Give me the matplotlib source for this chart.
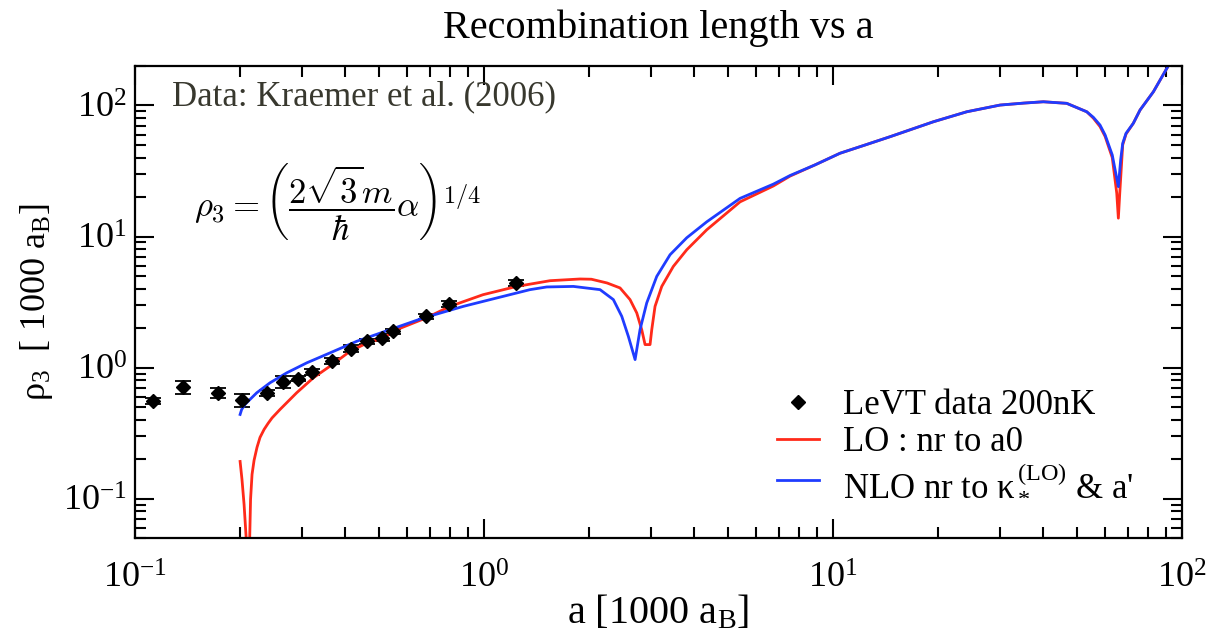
import numpy as np
import matplotlib
matplotlib.use("Agg")
import matplotlib.pyplot as plt
from matplotlib.lines import Line2D
from matplotlib.ticker import LogLocator, LogFormatterMathtext, NullFormatter

plt.rcParams["font.family"] = ["Liberation Serif", "DejaVu Serif"]
plt.rcParams["mathtext.fontset"] = "custom"
plt.rcParams["mathtext.rm"] = "Liberation Serif"
plt.rcParams["mathtext.it"] = "Liberation Serif:italic"
plt.rcParams["mathtext.bf"] = "Liberation Serif:bold"

# LeVT data 200nK (Kraemer et al. 2006)
a_data = [0.1126, 0.137, 0.1732, 0.2029, 0.2393, 0.266, 0.294, 0.322,
          0.367, 0.415, 0.463, 0.511, 0.550, 0.682, 0.794, 1.232]
rho_data = [0.554, 0.708, 0.642, 0.564, 0.640, 0.778, 0.824, 0.927,
            1.125, 1.395, 1.586, 1.683, 1.890, 2.46, 3.04, 4.42]
rel_err = [0.05, 0.11, 0.09, 0.11, 0.06, 0.11, 0.05, 0.06,
           0.06, 0.06, 0.05, 0.05, 0.05, 0.05, 0.05, 0.05]

# LO : nr to a0
a_lo = [0.200, 0.2025, 0.2053, 0.2087, 0.2105, 0.2129, 0.2143, 0.2164, 0.2193,
        0.2236, 0.2281, 0.2343, 0.2405, 0.2469, 0.2603, 0.2905, 0.3243, 0.3675,
        0.413, 0.463, 0.5146, 0.5623, 0.6821, 0.799, 0.9934, 1.241, 1.546,
        1.884, 2.03, 2.251, 2.453, 2.620, 2.739, 2.83, 2.893, 2.99, 3.024, 3.09,
        3.23, 3.486, 3.809, 4.346, 5.414, 6.745, 7.53, 8.88, 10.47, 12.35,
        14.57, 19.39, 24.16, 30.1, 35.3, 40.06, 46.72, 53.33, 55.7, 58.2, 60.2,
        63.1, 65.0, 65.69, 66.3, 67.6, 69.1, 72.5, 75.8, 82.77, 91.2, 96.0]
rho_lo = [0.192, 0.140, 0.0905, 0.045, 0.01, 0.045, 0.0988, 0.153, 0.1957,
          0.246, 0.293, 0.337, 0.3746, 0.4124, 0.479, 0.642, 0.835, 1.054,
          1.331, 1.542, 1.684, 1.947, 2.39, 2.93, 3.597, 4.16, 4.60, 4.74,
          4.72, 4.42, 4.05, 3.30, 2.61, 1.947, 1.497, 1.497, 1.947, 2.93, 4.16,
          5.91, 7.92, 11.25, 18.38, 24.3, 28.9, 35.2, 43.18, 49.9, 57.76, 75.1,
          89.5, 100.7, 104.3, 106.7, 103.8, 89.5, 80.0, 69.0, 58.0, 40.0, 21.4,
          13.8, 21.4, 50.0, 60.5, 73.1, 92.3, 127.2, 199.5, 250.0]

# NLO nr to kappa_*^(LO) & a'
a_nlo = [0.200, 0.2021, 0.2066, 0.2135, 0.2232, 0.2436, 0.2721, 0.3105, 0.362,
         0.4317, 0.5379, 0.6702, 0.8724, 1.087, 1.354, 1.512, 1.803, 2.150,
         2.347, 2.481, 2.591, 2.709, 2.799, 2.925, 3.125, 3.412, 3.809, 4.346,
         5.414, 6.745, 7.53, 8.88, 10.47, 12.35, 14.57, 19.39, 24.16, 30.1,
         35.3, 40.06, 46.72, 53.33, 55.7, 58.2, 60.2, 63.1, 65.69, 66.7, 67.6,
         69.1, 72.5, 75.8, 82.77, 91.2, 96.0]
rho_nlo = [0.4385, 0.479, 0.523, 0.571, 0.6418, 0.7646, 0.9113, 1.086, 1.294,
           1.586, 1.947, 2.39, 2.93, 3.395, 3.93, 4.12, 4.16, 3.93,
           3.30, 2.459, 1.731, 1.15, 1.947, 3.11, 4.96, 7.26, 9.78, 12.94,
           19.54, 25.1, 29.2, 35.2, 43.18, 49.9, 57.76, 75.1, 89.5, 100.7,
           104.3, 106.7, 103.8, 89.5, 81.2, 70.9, 59.5, 41.9, 24.0, 38.4, 51.4,
           61.3, 73.1, 92.3, 127.2, 199.5, 250.0]

fig = plt.figure(figsize=(12.1, 6.39), dpi=100)
ax = fig.add_axes([0.1116, 0.158, 0.8653, 0.7387])

yerr = np.array(rho_data) * np.array(rel_err)
ax.errorbar(a_data, rho_data, yerr=yerr, fmt="D", color="black",
            markersize=7, capsize=6, elinewidth=1.3, capthick=1.3)
ax.plot(a_lo, rho_lo, color="#ff2a1a", lw=2.0)
ax.plot(a_nlo, rho_nlo, color="#1f3cff", lw=2.0)

ax.set_xscale("log")
ax.set_yscale("log")
ax.set_xlim(0.1, 100)
ax.set_ylim(0.05, 200)

for axis in (ax.xaxis, ax.yaxis):
    axis.set_major_locator(LogLocator(base=10))
    axis.set_minor_locator(LogLocator(base=10, subs=np.arange(2, 10)))
    axis.set_major_formatter(LogFormatterMathtext())
    axis.set_minor_formatter(NullFormatter())

ax.tick_params(which="both", direction="in", top=True, right=True, width=1.5)
ax.tick_params(which="major", length=14, labelsize=26)
ax.tick_params(which="minor", length=8)
ax.tick_params(axis="x", which="major", pad=18)
ax.tick_params(axis="y", which="major", pad=6)
for sp in ax.spines.values():
    sp.set_linewidth(1.6)

ax.set_title("Recombination length vs a", fontsize=29, pad=20)
ax.set_xlabel(r"a [1000 a$_\mathrm{B}$]", fontsize=29, labelpad=-2)
ax.set_ylabel(r"ρ$_3$  [ 1000 a$_\mathrm{B}$]", fontsize=26, labelpad=6)

ax.text(0.035, 0.935, "Data: Kraemer et al. (2006)", transform=ax.transAxes,
        fontsize=25, color="#38382e", va="center", ha="left")
ax.text(0.193, 0.71,
        r"$\rho_3 = \left(\dfrac{2\sqrt{3}m}{\hbar}\alpha\right)^{1/4}$",
        transform=ax.transAxes, fontsize=25, math_fontfamily="cm",
        ha="center", va="center")

handles = [Line2D([], [], marker="D", color="black", ls="none", markersize=7),
           Line2D([], [], color="#ff2a1a", lw=2.0),
           Line2D([], [], color="#1f3cff", lw=2.0)]
labels = ["LeVT data 200nK", "LO : nr to a0",
          r"NLO nr to κ$_*^{\,(\mathrm{LO})}$ & a'"]
ax.legend(handles, labels, loc="lower left", bbox_to_anchor=(0.6, 0.05),
          frameon=False, fontsize=25, handlelength=1.2, handletextpad=0.7,
          labelspacing=0.12, borderaxespad=0)

fig.savefig("out.png", dpi=100)
